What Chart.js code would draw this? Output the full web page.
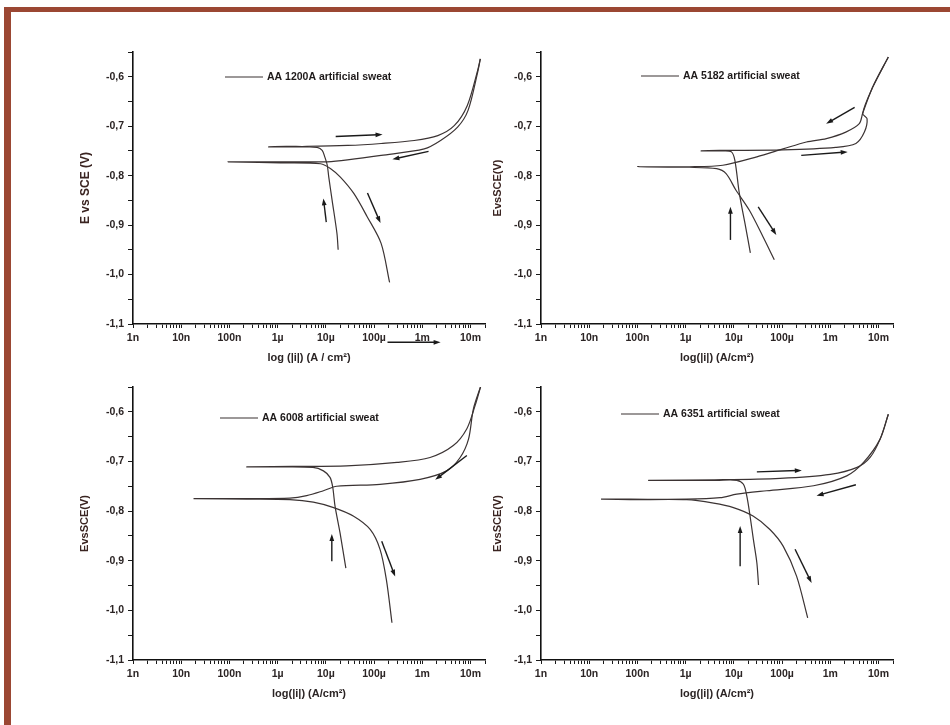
<!DOCTYPE html>
<html>
<head>
<meta charset="utf-8">
<script src="https://cdn.jsdelivr.net/npm/chart.js@4.4.1/dist/chart.umd.min.js"></script>
<style>
  html, body { margin: 0; padding: 0; background: #fff; }
  #page { position: relative; width: 950px; height: 725px; overflow: hidden; background: #fff; }
  #frameTop { position: absolute; left: 4px; top: 7px; width: 946px; height: 5px; background: #9b4733; }
  #frameLeft { position: absolute; left: 4px; top: 7px; width: 7px; height: 718px; background: #9b4733; }
  canvas { position: absolute; }
</style>
</head>
<body>
<div id="page">
  <div id="frameTop"></div>
  <div id="frameLeft"></div>
  <canvas id="c1"></canvas>
  <canvas id="c2"></canvas>
  <canvas id="c3"></canvas>
  <canvas id="c4"></canvas>
</div>
<script>
// ---- data (current density in A/cm2, potential in V vs SCE) ----
const seriesNames = ['AA 1200A artificial sweat', 'AA 5182 artificial sweat', 'AA 6008 artificial sweat', 'AA 6351 artificial sweat'];
const decadeExps = [-9, -8, -7, -6, -5, -4, -3, -2];
const decadeLabels = ['1n', '10n', '100n', '1\u00b5', '10\u00b5', '100\u00b5', '1m', '10m'];

// AA 1200A
const fwd1200_i = [1.8e-5, 1.7e-5, 1.35e-5, 1.15e-5, 1.07e-5, 9.5e-6, 8.4e-6, 6.6e-6, 4.1e-6, 1.2e-6, 6.5e-7, 1.5e-6, 4e-6, 2.8e-5, 1.4e-4, 6.8e-4, 2.1e-3, 4.6e-3, 8.6e-3, 1.4e-2, 1.6e-2];
const fwd1200_E = [-0.950, -0.917, -0.850, -0.803, -0.779, -0.762, -0.749, -0.743, -0.742, -0.742, -0.742, -0.741, -0.741, -0.739, -0.735, -0.729, -0.719, -0.699, -0.658, -0.588, -0.564];
const rev1200_i = [1.6e-2, 1.4e-2, 8.9e-3, 5.4e-3, 2.4e-3, 1.1e-3, 1.4e-4, 2.8e-5, 1.07e-5, 5.6e-6, 2.3e-7, 9.5e-8, 1.15e-6, 7.8e-6, 1.26e-5, 2e-5, 3.8e-5, 7.2e-5, 1.4e-4, 2.1e-4];
const rev1200_E = [-0.564, -0.592, -0.668, -0.702, -0.729, -0.746, -0.759, -0.768, -0.772, -0.772, -0.772, -0.772, -0.774, -0.776, -0.786, -0.803, -0.836, -0.883, -0.937, -1.016];

// AA 5182
const fwd5182_i = [2.2e-5, 1.75e-5, 1.3e-5, 1.05e-5, 8.9e-6, 6e-6, 3.4e-6, 2.1e-6, 5e-6, 1.05e-4, 1.3e-3, 3.4e-3, 5.1e-3, 5.8e-3, 4.7e-3, 7.6e-3, 1.6e-2];
const fwd5182_E = [-0.956, -0.903, -0.836, -0.769, -0.752, -0.750, -0.750, -0.750, -0.749, -0.748, -0.743, -0.735, -0.712, -0.685, -0.674, -0.621, -0.560];
const rev5182_i = [1.6e-2, 7.6e-3, 4.7e-3, 4e-3, 2.1e-3, 8.3e-4, 3.2e-4, 1.05e-4, 3e-5, 5.9e-6, 1.2e-6, 1e-7, 1.2e-6, 4.4e-6, 6.9e-6, 1.1e-5, 2.1e-5, 4e-5, 6.9e-5];
const rev5182_E = [-0.560, -0.621, -0.674, -0.695, -0.712, -0.725, -0.732, -0.746, -0.762, -0.779, -0.782, -0.782, -0.783, -0.786, -0.796, -0.829, -0.870, -0.923, -0.970];

// AA 6008
const fwd6008_i = [2.6e-5, 1.97e-5, 1.55e-5, 1.39e-5, 1.22e-5, 8.9e-6, 5.4e-6, 9.6e-7, 2.3e-7, 2e-6, 2.7e-5, 3e-4, 1.45e-3, 4.4e-3, 8.4e-3, 1.25e-2, 1.65e-2];
const fwd6008_E = [-0.915, -0.844, -0.790, -0.752, -0.732, -0.719, -0.712, -0.711, -0.711, -0.710, -0.709, -0.702, -0.692, -0.668, -0.634, -0.587, -0.547];
const rev6008_i = [1.65e-2, 1.15e-2, 9.1e-3, 6.1e-3, 3.2e-3, 9e-4, 1.33e-4, 1.68e-5, 8.9e-6, 4e-6, 1.8e-6, 2.3e-7, 1.8e-8, 2.3e-7, 1.8e-6, 5.5e-6, 1.45e-5, 3.7e-5, 8.3e-5, 1.33e-4, 1.8e-4, 2.35e-4];
const rev6008_E = [-0.547, -0.594, -0.655, -0.692, -0.719, -0.736, -0.746, -0.750, -0.759, -0.769, -0.774, -0.775, -0.775, -0.776, -0.777, -0.782, -0.793, -0.810, -0.837, -0.877, -0.938, -1.025];

// AA 6351
const fwd6351_i = [3.25e-5, 3e-5, 2.54e-5, 2.17e-5, 1.85e-5, 1.58e-5, 1.15e-5, 4.4e-6, 1.7e-7, 4e-6, 9.1e-5, 1e-3, 3.6e-3, 6.7e-3, 1.08e-2, 1.6e-2];
const fwd6351_E = [-0.949, -0.904, -0.857, -0.810, -0.769, -0.746, -0.738, -0.738, -0.738, -0.737, -0.734, -0.726, -0.712, -0.692, -0.655, -0.605];
const rev6351_i = [1.6e-2, 1.08e-2, 4.9e-3, 2.2e-3, 4.5e-4, 4.8e-5, 1.15e-5, 5.2e-6, 1.05e-6, 7.1e-8, 1.8e-8, 7e-8, 1.05e-6, 3.8e-6, 9.8e-6, 2.5e-5, 5.6e-5, 1.06e-4, 2e-4, 3.4e-4];
const rev6351_E = [-0.605, -0.655, -0.702, -0.729, -0.749, -0.759, -0.766, -0.773, -0.776, -0.776, -0.776, -0.777, -0.777, -0.784, -0.793, -0.810, -0.837, -0.871, -0.931, -1.015];

// scan direction arrows: [i from, E from, i to, E to]
const arrows1200 = [[1.6e-5, -0.721, 1.5e-4, -0.717], [1.35e-3, -0.751, 2.4e-4, -0.767], [1.02e-5, -0.894, 8.9e-6, -0.846], [7.3e-5, -0.835, 1.36e-4, -0.896], [1.9e-4, -1.137, 2.4e-3, -1.137]];
const arrows5182 = [[3.2e-3, -0.662, 8.2e-4, -0.695], [2.5e-4, -0.759, 2.3e-3, -0.752], [8.5e-6, -0.930, 8.5e-6, -0.863], [3.2e-5, -0.863, 7.6e-5, -0.920]];
const arrows6008 = [[1.33e-5, -0.901, 1.33e-5, -0.846], [1.44e-4, -0.861, 2.74e-4, -0.932], [8.4e-3, -0.688, 1.85e-3, -0.737]];
const arrows6351 = [[3e-5, -0.721, 2.57e-4, -0.718], [3.4e-3, -0.747, 5.2e-4, -0.769], [1.35e-5, -0.911, 1.35e-5, -0.830], [1.86e-4, -0.877, 4.1e-4, -0.945]];

const curveColor = '#3b3333';
const textColor = '#2b2424';
const fontFamily = '"Liberation Sans", Arial, sans-serif';

function pts(iArr, eArr) {
  return iArr.map((v, k) => ({ x: v, y: eArr[k] }));
}

function drawArrow(ctx, x0, y0, x1, y1) {
  const ang = Math.atan2(y1 - y0, x1 - x0);
  const c = Math.cos(ang), s = Math.sin(ang);
  const hl = 7, hw = 2.4;
  ctx.beginPath();
  ctx.moveTo(x0, y0);
  ctx.lineTo(x1 - hl * 0.7 * c, y1 - hl * 0.7 * s);
  ctx.stroke();
  ctx.beginPath();
  ctx.moveTo(x1, y1);
  ctx.lineTo(x1 - hl * c + hw * s, y1 - hl * s - hw * c);
  ctx.lineTo(x1 - hl * c - hw * s, y1 - hl * s + hw * c);
  ctx.closePath();
  ctx.fill();
}

const overlay = {
  id: 'overlay',
  afterDatasetsDraw(chart, args, opts) {
    const { ctx, chartArea, scales } = chart;
    ctx.save();
    // in-plot legend
    const lx = chartArea.left + opts.legendX;
    const ly = chartArea.top + opts.legendY;
    ctx.strokeStyle = curveColor;
    ctx.lineWidth = 1.2;
    ctx.beginPath();
    ctx.moveTo(lx, ly);
    ctx.lineTo(lx + 38, ly);
    ctx.stroke();
    ctx.font = 'bold 10.5px ' + fontFamily;
    ctx.fillStyle = '#1e1a1a';
    ctx.textBaseline = 'middle';
    ctx.fillText(opts.label, lx + 42, ly + 0.5);
    // arrows
    ctx.strokeStyle = '#1a1a1a';
    ctx.fillStyle = '#1a1a1a';
    ctx.lineWidth = 1.4;
    opts.arrows.forEach(a => {
      drawArrow(ctx,
        scales.x.getPixelForValue(a[0]), scales.y.getPixelForValue(a[1]),
        scales.x.getPixelForValue(a[2]), scales.y.getPixelForValue(a[3]));
    });
    ctx.restore();
  }
};

function makeChart(cfg) {
  const el = document.getElementById(cfg.id);
  el.style.left = cfg.left + 'px';
  el.style.top = cfg.top + 'px';
  el.width = cfg.width;
  el.height = cfg.height;

  const tickFont = { family: fontFamily, size: 10.5, weight: 'bold' };

  return new Chart(el, {
    type: 'scatter',
    data: {
      datasets: [
        { data: pts(cfg.fi, cfg.fE), showLine: true, borderColor: curveColor, borderWidth: 1.2, pointRadius: 0, tension: 0.3 },
        { data: pts(cfg.ri, cfg.rE), showLine: true, borderColor: curveColor, borderWidth: 1.2, pointRadius: 0, tension: 0.3 }
      ]
    },
    options: {
      responsive: false,
      animation: false,
      layout: { padding: { left: 0, top: cfg.padTop, right: cfg.padRight, bottom: 0 } },
      plugins: {
        legend: { display: false },
        tooltip: { enabled: false },
        overlay: { label: cfg.label, legendX: cfg.legendX, legendY: cfg.legendY, arrows: cfg.arrows }
      },
      scales: {
        x: {
          type: 'logarithmic',
          position: 'bottom',
          min: 1e-9,
          max: 2e-2,
          afterBuildTicks: s => {
            const t = [];
            decadeExps.forEach(e => {
              for (let m = 1; m <= 9; m++) {
                const v = m * Math.pow(10, e);
                if (v <= 2e-2) t.push({ value: v });
              }
            });
            s.ticks = t;
          },
          afterFit: s => { s.height = cfg.xHeight; },
          grid: { drawOnChartArea: false, drawTicks: true, tickLength: 4, color: '#1a1a1a', tickWidth: 1 },
          border: { display: true, color: '#111', width: 1.6 },
          ticks: {
            autoSkip: false, maxRotation: 0, minRotation: 0, padding: 4,
            font: tickFont, color: textColor,
            callback: v => {
              const e = Math.log10(v);
              const k = decadeExps.indexOf(Math.round(e));
              return (Math.abs(e - Math.round(e)) < 1e-6 && k >= 0) ? decadeLabels[k] : '';
            }
          },
          title: {
            display: true, text: cfg.xTitle, color: textColor,
            font: { family: fontFamily, size: 11, weight: 'bold' },
            padding: { top: 0, bottom: 10 }
          }
        },
        y: {
          type: 'linear',
          min: -1.1,
          max: -0.55,
          afterBuildTicks: s => {
            const t = [];
            for (let k = -22; k <= -11; k++) t.push({ value: k * 0.05 });
            s.ticks = t;
          },
          afterFit: s => { s.width = cfg.yWidth; },
          grid: { drawOnChartArea: false, drawTicks: true, tickLength: 5, color: '#1a1a1a' },
          border: { display: true, color: '#111', width: 1.6 },
          ticks: {
            padding: 4, font: tickFont, color: textColor,
            callback: v => (Math.round(v * 100) % 10 === 0) ? v.toFixed(1).replace('.', ',') : ''
          },
          title: {
            display: true, text: cfg.yTitle, color: '#3a2421',
            font: { family: fontFamily, size: cfg.yTitleSize, weight: 'bold' },
            padding: { top: cfg.yTitlePad, bottom: 0 }
          }
        }
      }
    },
    plugins: [overlay]
  });
}

makeChart({
  id: 'c1', left: 70, top: 40, width: 420, height: 335,
  yWidth: 63, padTop: 12, padRight: 5, xHeight: 51, yTitlePad: 8, yTitleSize: 12,
  fi: fwd1200_i, fE: fwd1200_E, ri: rev1200_i, rE: rev1200_E,
  label: seriesNames[0], legendX: 92, legendY: 25, arrows: arrows1200,
  xTitle: 'log (|i|) (A / cm\u00b2)', yTitle: 'E vs SCE (V)'
});
makeChart({
  id: 'c2', left: 488, top: 40, width: 420, height: 335,
  yWidth: 53, padTop: 12, padRight: 15, xHeight: 51, yTitlePad: 3, yTitleSize: 11,
  fi: fwd5182_i, fE: fwd5182_E, ri: rev5182_i, rE: rev5182_E,
  label: seriesNames[1], legendX: 100, legendY: 24, arrows: arrows5182,
  xTitle: 'log(|i|) (A/cm\u00b2)', yTitle: 'EvsSCE(V)'
});
makeChart({
  id: 'c3', left: 70, top: 375, width: 420, height: 336,
  yWidth: 63, padTop: 12, padRight: 5, xHeight: 51, yTitlePad: 8, yTitleSize: 11,
  fi: fwd6008_i, fE: fwd6008_E, ri: rev6008_i, rE: rev6008_E,
  label: seriesNames[2], legendX: 87, legendY: 31, arrows: arrows6008,
  xTitle: 'log(|i|) (A/cm\u00b2)', yTitle: 'EvsSCE(V)'
});
makeChart({
  id: 'c4', left: 488, top: 375, width: 420, height: 336,
  yWidth: 53, padTop: 12, padRight: 15, xHeight: 51, yTitlePad: 3, yTitleSize: 11,
  fi: fwd6351_i, fE: fwd6351_E, ri: rev6351_i, rE: rev6351_E,
  label: seriesNames[3], legendX: 80, legendY: 27, arrows: arrows6351,
  xTitle: 'log(|i|) (A/cm\u00b2)', yTitle: 'EvsSCE(V)'
});
</script>
</body>
</html>
